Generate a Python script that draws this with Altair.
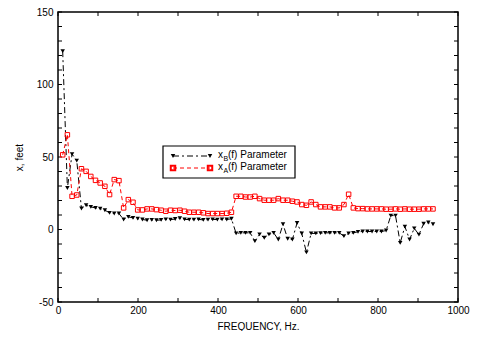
import altair as alt
import pandas as pd

# Frequency bins (FFT-like uniform spacing, Hz)
freq_step = 11.71875
freqs = [round(freq_step * k, 2) for k in range(1, 81)]

# x_B(f) Parameter (black, triangles)
xB = [123.0, 28.6, 52.0, 47.5, 14.5, 16.7, 15.6, 14.9, 14.4, 13.3,
      11.5, 11.0, 11.0, 6.9, 8.7, 8.0, 7.5, 6.9, 6.4, 6.6,
      6.4, 6.6, 7.0, 6.8, 7.2, 7.8, 7.0, 6.8, 6.8, 7.0,
      6.6, 6.8, 7.0, 6.8, 7.0, 6.9, 7.4, -2.7, -2.3, -2.3,
      -2.3, -8.0, -3.4, -5.7, -3.4, -2.3, -6.9, 3.6, -6.4, -6.9,
      4.5, -2.8, -15.8, -2.7, -2.7, -2.5, -2.3, -2.3, -2.3, -2.3,
      -4.6, -2.7, -2.3, -1.6, -1.4, -1.4, -1.4, -1.4, -1.4, -0.7,
      9.6, 9.6, -9.2, 2.0, -6.9, 0.8, -3.5, 4.0, 4.8, 3.6]

# x_A(f) Parameter (red, squares)
xA = [51.5, 65.3, 22.9, 23.8, 41.9, 40.1, 36.6, 33.9, 32.1, 29.8,
      24.1, 34.4, 33.7, 14.9, 20.6, 18.8, 13.5, 13.5, 14.2, 14.2,
      13.7, 13.3, 12.6, 13.3, 13.1, 13.3, 12.6, 11.9, 11.9, 11.9,
      11.5, 11.0, 11.0, 11.0, 11.0, 11.2, 11.9, 22.9, 22.9, 22.4,
      22.4, 22.9, 21.3, 20.2, 20.2, 20.2, 21.3, 20.2, 20.2, 19.5,
      19.0, 17.2, 16.7, 19.0, 17.2, 15.6, 15.6, 15.6, 14.9, 14.9,
      17.2, 24.3, 14.9, 14.4, 14.4, 14.2, 14.2, 14.2, 14.2, 14.0,
      14.0, 14.2, 14.0, 14.2, 14.0, 14.0, 14.0, 14.2, 14.2, 14.2]

x_labels = [0, 200, 400, 600, 800, 1000]
y_labels = [-50, 0, 50, 100, 150]
x_ticks = list(range(0, 1001, 100))
y_ticks = list(range(-50, 151, 10))

FONT = "Liberation Sans"
W, H = 400, 290

dfB = pd.DataFrame({"f": freqs, "v": xB})
dfA = pd.DataFrame({"f": freqs, "v": xA})

xscale = alt.Scale(domain=[0, 1000], nice=False, zero=False, padding=0)
yscale = alt.Scale(domain=[-50, 150], nice=False, zero=False, padding=0)

X_AXIS = alt.Axis(values=x_labels, title="FREQUENCY, Hz.",
                  labelExpr="toString(datum.value)", labelFlush=False,
                  labelPadding=3, titlePadding=6, orient="bottom")
Y_AXIS = alt.Axis(values=y_labels, title="x, feet",
                  labelExpr="toString(datum.value)", labelFlush=False,
                  labelPadding=5, titlePadding=12, orient="left")

def X(field):
    return alt.X(field, type="quantitative", scale=xscale, axis=X_AXIS)

def Y(field):
    return alt.Y(field, type="quantitative", scale=yscale, axis=Y_AXIS)

lineB = alt.Chart(dfB).mark_line(color="black", strokeWidth=1,
                                 strokeDash=[6, 3, 2, 3]).encode(x=X("f"), y=Y("v"))
ptsB = alt.Chart(dfB).mark_point(shape="triangle-down", filled=True, size=20,
                                 color="black", opacity=1).encode(x=X("f"), y=Y("v"))
lineA = alt.Chart(dfA).mark_line(color="#ff0000", strokeWidth=1,
                                 strokeDash=[4, 3]).encode(x=X("f"), y=Y("v"))
ptsA = alt.Chart(dfA).mark_point(shape="square", filled=False, size=20,
                                 color="#ff0000", strokeWidth=1, opacity=1).encode(x=X("f"), y=Y("v"))

# inward tick marks on all four sides
xt = pd.DataFrame({"t": x_ticks})
yt = pd.DataFrame({"t": y_ticks})
tick_b = alt.Chart(xt).mark_rule(color="black", strokeWidth=1).encode(x=X("t"), y=alt.value(H), y2=alt.value(H - 4))
tick_t = alt.Chart(xt).mark_rule(color="black", strokeWidth=1).encode(x=X("t"), y=alt.value(0), y2=alt.value(4))
tick_l = alt.Chart(yt).mark_rule(color="black", strokeWidth=1).encode(y=Y("t"), x=alt.value(0), x2=alt.value(4))
tick_r = alt.Chart(yt).mark_rule(color="black", strokeWidth=1).encode(y=Y("t"), x=alt.value(W), x2=alt.value(W - 4))

# legend box
one = pd.DataFrame({"a": [0]})
lg_box = alt.Chart(one).mark_rect(fill="white", stroke="black", strokeWidth=1.2).encode(
    x=alt.value(105), x2=alt.value(237), y=alt.value(134), y2=alt.value(166))
lg_lineB = alt.Chart(one).mark_rule(color="black", strokeWidth=1, strokeDash=[6, 3, 2, 3]).encode(
    x=alt.value(115), x2=alt.value(152), y=alt.value(144))
lg_ptB1 = alt.Chart(one).mark_point(shape="triangle-down", filled=True, size=20, color="black", opacity=1).encode(
    x=alt.value(115), y=alt.value(144))
lg_ptB2 = alt.Chart(one).mark_point(shape="triangle-down", filled=True, size=20, color="black", opacity=1).encode(
    x=alt.value(152), y=alt.value(144))
lg_lineA = alt.Chart(one).mark_rule(color="#ff0000", strokeWidth=1, strokeDash=[4, 3]).encode(
    x=alt.value(115), x2=alt.value(152), y=alt.value(156))
lg_ptA1 = alt.Chart(one).mark_point(shape="square", filled=False, size=20, color="#ff0000", opacity=1).encode(
    x=alt.value(115), y=alt.value(156))
lg_ptA2 = alt.Chart(one).mark_point(shape="square", filled=False, size=20, color="#ff0000", opacity=1).encode(
    x=alt.value(152), y=alt.value(156))

def txt(s, x, y, size=10):
    return alt.Chart(one).mark_text(text=s, align="left", baseline="middle", font=FONT,
                                    fontSize=size, color="black").encode(x=alt.value(x), y=alt.value(y))

lg_texts = [
    txt("x", 160, 143), txt("B", 165.5, 147, 7), txt("(f) Parameter", 170, 143),
    txt("x", 160, 155), txt("A", 165.5, 159, 7), txt("(f) Parameter", 170, 155),
]

chart = alt.layer(
    tick_b, tick_t, tick_l, tick_r, lineB, ptsB, lineA, ptsA,
    lg_box, lg_lineB, lg_ptB1, lg_ptB2, lg_lineA, lg_ptA1, lg_ptA2, *lg_texts
).properties(
    width=W, height=H,
    autosize=alt.AutoSizeParams(type="none"),
    padding={"left": 50, "top": 4, "right": 12, "bottom": 29},
).configure_view(
    stroke="black", strokeWidth=1.5
).configure_axis(
    labelFont=FONT, titleFont=FONT, labelFontSize=10, titleFontSize=10,
    titleFontWeight="normal", labelColor="black", titleColor="black",
    ticks=False, domain=False, grid=False
)

chart.save("out.html", embed_options={"renderer": "svg", "actions": False})
